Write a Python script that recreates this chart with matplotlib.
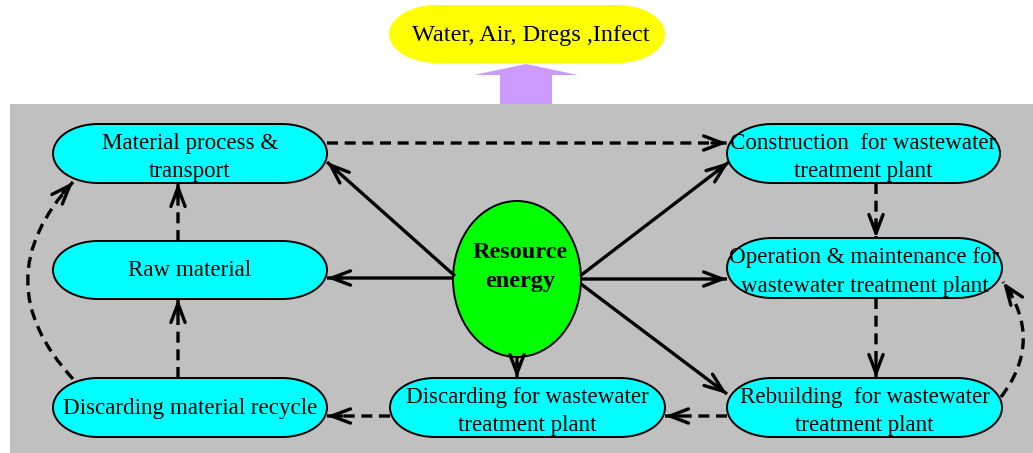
"""Life-cycle flow diagram of a wastewater treatment plant."""

import matplotlib

matplotlib.use("Agg")
import numpy as np
from matplotlib import pyplot as plt
from matplotlib.patches import Ellipse, FancyArrow, FancyArrowPatch, Polygon, Rectangle

# ------------------------------------------------------------------ #
#  Diagram content
# ------------------------------------------------------------------ #
node_labels = [
    "Material process &\ntransport",
    "Raw material",
    "Discarding material recycle",
    "Discarding for wastewater\ntreatment plant",
    "Construction  for wastewater\ntreatment plant",
    "Operation & maintenance for\nwastewater treatment plant",
    "Rebuilding  for wastewater\ntreatment plant",
]
centre_label = "Resource\nenergy"
output_label = "Water, Air, Dregs ,Infect"

# layout (pixel space, y grows downward)
node_boxes = [
    (53, 124, 274, 59),
    (53, 241, 274, 58),
    (53, 378, 274, 59),
    (390, 378, 275, 59),
    (727, 124, 273, 59),
    (727, 238, 275, 60),
    (727, 378, 275, 59),
]
centre_xy = (517, 279)
centre_size = (128, 156)

# (start, end, dashed, curvature)
links = [
    ((453, 278), (327, 278), False, 0),
    ((455, 276), (327, 162), False, 0),
    ((580, 276), (729, 162), False, 0),
    ((581, 279), (727, 279), False, 0),
    ((581, 284), (727, 394), False, 0),
    ((517, 357), (517, 378), False, 0),
    ((327, 143), (727, 143), True, 0),
    ((178, 241), (178, 183), True, 0),
    ((178, 378), (178, 299), True, 0),
    ((73, 379), (73, 182), True, -0.46),
    ((876, 183), (876, 238), True, 0),
    ((876, 298), (876, 378), True, 0),
    ((1001, 397), (1003, 282), True, 0.37),
    ((727, 416), (665, 416), True, 0),
    ((390, 416), (327, 416), True, 0),
]

SERIF = ["Liberation Serif", "DejaVu Serif"]
HEAD = 15


def stadium(ax, x, y, w, h, face, lw=1.4, rx=45):
    # rectangle with half-ellipse ends
    ry = h / 2
    cy = y + ry
    t = np.linspace(np.pi / 2, 3 * np.pi / 2, 40)
    left = np.column_stack([x + rx + rx * np.cos(t), cy - ry * np.sin(t)])
    right = np.column_stack([x + w - rx - rx * np.cos(t), cy + ry * np.sin(t)])
    ax.add_patch(Polygon(np.vstack([left, right]), closed=True, facecolor=face,
                         edgecolor="black" if lw else "none", linewidth=lw))


def link(ax, start, end, dashed, rad):
    start, end = np.asarray(start, float), np.asarray(end, float)
    # shaft (dashed or solid), no head
    ax.add_patch(FancyArrowPatch(
        start, end, arrowstyle="-", connectionstyle=f"arc3,rad={rad}",
        shrinkA=0, shrinkB=0, linewidth=2.4, color="black",
        linestyle=(0, (3.3, 2.0)) if dashed else "-", capstyle="butt",
    ))
    # solid head aligned with the end tangent (y axis is inverted)
    mid = (start + end) / 2
    d = end - start
    ctrl = mid + rad * np.array([-d[1], d[0]])
    u = end - ctrl
    u /= np.hypot(*u)
    ax.add_patch(FancyArrowPatch(
        end - HEAD * u, end, arrowstyle="->,head_length=9,head_width=3.4",
        shrinkA=0, shrinkB=0, linewidth=2.4, color="black", mutation_scale=1.5,
    ))


def main() -> None:
    fig = plt.figure(figsize=(10.33, 4.53), dpi=100)
    ax = fig.add_axes([0, 0, 1, 1])
    ax.set_xlim(0, 1033)
    ax.set_ylim(453, 0)
    ax.axis("off")

    # grey panel + output bubble
    ax.add_patch(Rectangle((10, 104), 1030, 360, facecolor="#c0c0c0", edgecolor="none"))
    ax.add_patch(FancyArrow(526, 104, 0, -40, width=52, head_width=104,
                            head_length=11, length_includes_head=True,
                            facecolor="#cc99ff", edgecolor="none"))
    stadium(ax, 389, 5, 276, 58, "#ffff00", lw=0, rx=48)
    ax.text(531, 35, output_label, ha="center", va="center",
            fontsize=17.5, family=SERIF)

    # nodes
    for label, (x, y, w, h) in zip(node_labels, node_boxes):
        stadium(ax, x, y, w, h, "#00ffff")
        dy = 4 if "\n" in label else 1
        ax.text(x + w / 2, y + h / 2 + dy, label, ha="center", va="center",
                fontsize=16.6, family=SERIF, linespacing=1.45)

    ax.add_patch(Ellipse(centre_xy, *centre_size, facecolor="#00ff00",
                         edgecolor="black", linewidth=1.4))
    ax.text(centre_xy[0] + 3, centre_xy[1] - 12, centre_label, ha="center", va="center",
            fontsize=17.5, fontweight="bold", family=SERIF, linespacing=1.5)

    # links
    for start, end, dashed, rad in links:
        link(ax, start, end, dashed, rad)

    fig.savefig("out.png", dpi=100)


if __name__ == "__main__":
    main()
